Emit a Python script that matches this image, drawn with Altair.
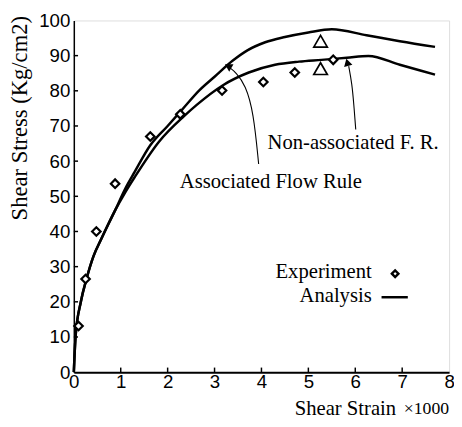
import altair as alt
import pandas as pd

# Analysis curves
assoc_x = [0, 0.04, 0.15, 0.27, 0.42, 0.59, 0.88, 1.09, 1.3, 1.63, 2.0, 2.3, 2.68, 3.0, 3.39, 3.7, 4.08, 4.5, 5.0, 5.5, 6.24, 6.95, 7.7]
assoc_y = [0, 10.6, 20, 26.5, 33, 38, 46, 52, 57, 64.5, 70, 74.5, 80.2, 84.0, 88.6, 91.5, 93.8, 95.3, 96.6, 97.5, 95.8, 94.1, 92.5]
nonassoc_x = [0, 0.04, 0.15, 0.27, 0.42, 0.59, 0.88, 1.09, 1.3, 1.82, 2.35, 2.62, 3.18, 3.73, 4.29, 4.8, 5.28, 5.82, 6.28, 6.95, 7.7]
nonassoc_y = [0, 10.6, 20, 26.5, 33, 38, 46, 51, 55.5, 65.6, 72.8, 76.0, 81.6, 85.2, 87.4, 88.3, 88.8, 89.4, 89.9, 87.4, 84.6]

# Experiment points
exp_x = [0.10, 0.25, 0.48, 0.88, 1.63, 2.27, 3.16, 4.04, 4.71, 5.53]
exp_y = [13.1, 26.5, 40.0, 53.6, 67.0, 73.3, 80.1, 82.5, 85.2, 88.8]

# Triangles
tri_x = [5.26, 5.26]
tri_y = [94.1, 86.3]

# Annotation arrows
arrow_na_x = [6.01, 5.97, 5.93, 5.86]
arrow_na_y = [69.0, 76.0, 82.0, 87.0]
arrow_a_x = [3.94, 3.83, 3.66, 3.46, 3.32]
arrow_a_y = [59.2, 74.0, 81.6, 85.2, 86.6]

x_ticks = [0, 1, 2, 3, 4, 5, 6, 7, 8]
y_ticks = [0, 10, 20, 30, 40, 50, 60, 70, 80, 90, 100]

curves = pd.DataFrame(
    [{"x": x, "y": y, "s": "assoc", "o": i} for i, (x, y) in enumerate(zip(assoc_x, assoc_y))]
    + [{"x": x, "y": y, "s": "nonassoc", "o": i} for i, (x, y) in enumerate(zip(nonassoc_x, nonassoc_y))]
)
exp = pd.DataFrame({"x": exp_x, "y": exp_y})
tri = pd.DataFrame({"x": tri_x, "y": tri_y})
arrows = pd.DataFrame(
    [{"x": x, "y": y, "s": "na", "o": i} for i, (x, y) in enumerate(zip(arrow_na_x, arrow_na_y))]
    + [{"x": x, "y": y, "s": "a", "o": i} for i, (x, y) in enumerate(zip(arrow_a_x, arrow_a_y))]
)
heads = pd.DataFrame({"x": [5.83, 3.29], "y": [88.1, 87.0], "ang": [345, 300]})

xs = alt.Scale(domain=[0, 8], nice=False)
ys = alt.Scale(domain=[0, 100], nice=False)

x_axis = alt.Axis(
    values=x_ticks, title="Shear Strain", titleFont="Liberation Serif", titleFontSize=21,
    titleFontWeight="normal", titleColor="black", titleX=276, titleY=37, titleBaseline="middle",
    titleAlign="center",
    labelFont="Liberation Sans", labelFontSize=19, labelColor="black", labelPadding=1,
    labelOverlap=False, tickSize=0, domainColor="black", domainWidth=2, grid=False, labelFlush=False)
y_axis = alt.Axis(
    values=y_ticks, title="Shear Stress (Kg/cm2)", titleFont="Liberation Serif", titleFontSize=23,
    titleFontWeight="normal", titleColor="black", titleX=-55, titleY=99, titleAngle=-90,
    titleAlign="center", titleBaseline="middle",
    labelFont="Liberation Sans", labelFontSize=19, labelColor="black", labelPadding=4,
    labelOverlap=False, tickSize=0, domainColor="black", domainWidth=1.5, grid=False, labelFlush=False)

X = alt.X("x:Q", scale=xs, axis=x_axis)
Y = alt.Y("y:Q", scale=ys, axis=y_axis)

lines = alt.Chart(curves).mark_line(color="black", strokeWidth=2.5, interpolate="monotone").encode(
    x=X, y=Y, detail="s:N", order="o:Q")

xtick_df = pd.DataFrame({"x": x_ticks[1:-1], "y": [0] * 7, "y2": [1.3] * 7})
xticks_m = alt.Chart(xtick_df).mark_rule(color="black", strokeWidth=1.5).encode(
    x=X, y=Y, y2="y2:Q")
ytick_df = pd.DataFrame({"x": [0] * 9, "x2": [0.09] * 9, "y": y_ticks[1:-1]})
yticks_m = alt.Chart(ytick_df).mark_rule(color="black", strokeWidth=1.5).encode(
    x=X, x2="x2:Q", y=Y)

exp_m = alt.Chart(exp).mark_point(shape="diamond", size=75, filled=False, color="black",
                                  strokeWidth=2.2, fill="white", fillOpacity=1, opacity=1).encode(x=X, y=Y)
tri_m = alt.Chart(tri).mark_point(shape="triangle-up", size=190, filled=False, color="black",
                                  strokeWidth=1.7, opacity=1).encode(x=X, y=Y)

arrow_m = alt.Chart(arrows).mark_line(color="black", strokeWidth=1.1, interpolate="basis").encode(
    x=X, y=Y, detail="s:N", order="o:Q")
head_m = alt.Chart(heads).mark_point(shape="triangle-up", size=75, filled=True, color="black",
                                     opacity=1).encode(
    x=X, y=Y, angle=alt.Angle("ang:Q", scale=None))

ann = pd.DataFrame({
    "x": [4.13, 2.26],
    "y": [65.1, 53.9],
    "t": ["Non-associated F. R.", "Associated Flow Rule"],
})
ann_m = alt.Chart(ann).mark_text(align="left", baseline="middle", font="Liberation Serif",
                                 fontSize=21, color="black").encode(x=X, y=Y, text="t:N")

leg_txt = pd.DataFrame({"x": [6.35, 6.35], "y": [28.5, 21.5], "t": ["Experiment", "Analysis"]})
leg_txt_m = alt.Chart(leg_txt).mark_text(align="right", baseline="middle", font="Liberation Serif",
                                         fontSize=21, color="black").encode(x=X, y=Y, text="t:N")
leg_pt = pd.DataFrame({"x": [6.85], "y": [28.0]})
leg_pt_m = alt.Chart(leg_pt).mark_point(shape="diamond", size=45, filled=False, color="black",
                                        strokeWidth=2.4, opacity=1).encode(x=X, y=Y)
leg_ln = pd.DataFrame({"x": [6.56], "x2": [7.12], "y": [21.3]})
leg_ln_m = alt.Chart(leg_ln).mark_rule(color="black", strokeWidth=2.5).encode(
    x=X, x2="x2:Q", y=Y)

mult = pd.DataFrame({"x": [8.0], "y": [-10.6], "t": ["×1000"]})
mult_m = alt.Chart(mult).mark_text(align="right", baseline="middle", font="Liberation Serif",
                                   fontSize=18, color="black", clip=False).encode(x=X, y=Y, text="t:N")

chart = alt.layer(
    lines, xticks_m, yticks_m, arrow_m, head_m, exp_m, tri_m, ann_m,
    leg_txt_m, leg_pt_m, leg_ln_m, mult_m
).properties(
    width=382, height=358,
    autosize=alt.AutoSizeParams(type="none"),
    padding={"left": 67, "top": 9, "right": 5, "bottom": 44},
).configure_view(stroke="black", strokeWidth=1.5).configure(background="white")

chart.save("out.html", embed_options={"renderer": "svg", "actions": False})
